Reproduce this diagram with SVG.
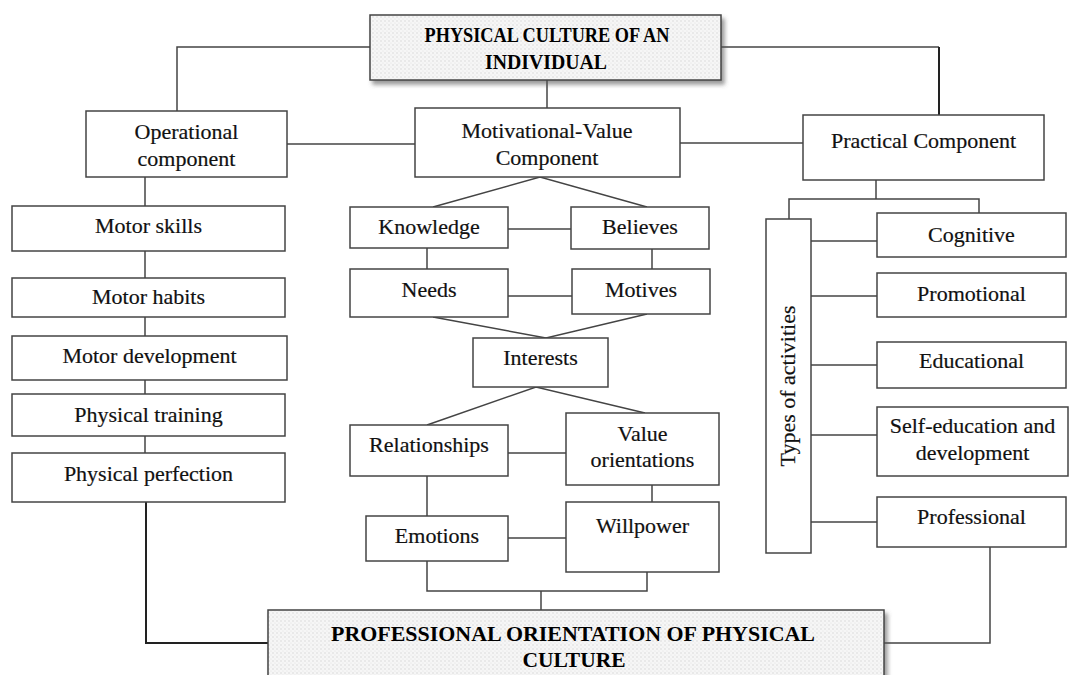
<svg xmlns="http://www.w3.org/2000/svg" width="1078" height="675" viewBox="0 0 1078 675">
  <defs>
    <pattern id="dots" width="4" height="4" patternUnits="userSpaceOnUse">
      <rect width="4" height="4" fill="#f6f6f6"/>
      <circle cx="1" cy="1" r="0.7" fill="#d4d4d4"/>
      <circle cx="3" cy="3" r="0.6" fill="#e0e0e0"/>
    </pattern>
    <filter id="shadow" x="-5%" y="-20%" width="115%" height="150%">
      <feDropShadow dx="3" dy="4" stdDeviation="2" flood-color="#555" flood-opacity="0.6"/>
    </filter>
  </defs>
  <style>
    .box { fill: #ffffff; stroke: #444; stroke-width: 1.5; }
    .title { fill: url(#dots); stroke: #444; stroke-width: 1.5; filter: url(#shadow); }
    .lbl { font-family: "Liberation Serif", "Times New Roman", serif; font-size: 22px; fill: #111; stroke: #111; stroke-width: 0.2; text-anchor: middle; }
    .ttl { font-family: "Liberation Serif", "Times New Roman", serif; font-size: 22px; font-weight: bold; fill: #000; text-anchor: middle; }
    .ln { fill: none; stroke: #444; stroke-width: 1.5; }
    .dk { fill: none; stroke: #222; stroke-width: 2; }
  </style>

  <rect width="1078" height="675" fill="#ffffff"/>

  <!-- connectors -->
  <g id="connectors">
    <polyline class="ln" points="370,47 177,47 177,111"/>
    <polyline class="ln" points="721,47 939,47"/>
    <line class="dk" x1="939" y1="47" x2="939" y2="115"/>
    <line class="ln" x1="547" y1="80" x2="547" y2="108"/>
    <line class="ln" x1="287" y1="144" x2="415" y2="144"/>
    <line class="ln" x1="680" y1="143" x2="803" y2="143"/>

    <!-- operational chain -->
    <line class="ln" x1="145" y1="177" x2="145" y2="206"/>
    <line class="ln" x1="145" y1="251" x2="145" y2="278"/>
    <line class="ln" x1="145" y1="317" x2="145" y2="336"/>
    <line class="ln" x1="145" y1="380" x2="145" y2="394"/>
    <line class="ln" x1="145" y1="436" x2="145" y2="453"/>
    <polyline class="dk" points="146,502 146,643 268,643"/>

    <!-- motivational-value structure -->
    <polyline class="ln" points="433,207 540,177 647,207"/>
    <line class="ln" x1="508" y1="229" x2="571" y2="229"/>
    <line class="ln" x1="427" y1="248" x2="427" y2="269"/>
    <line class="ln" x1="652" y1="249" x2="652" y2="269"/>
    <line class="ln" x1="508" y1="296" x2="572" y2="296"/>
    <polyline class="ln" points="433,317 546,338 647,314"/>
    <polyline class="ln" points="427,425 536,387 645,413"/>
    <line class="ln" x1="508" y1="453" x2="566" y2="453"/>
    <line class="ln" x1="427" y1="476" x2="427" y2="516"/>
    <line class="ln" x1="652" y1="485" x2="652" y2="502"/>
    <line class="ln" x1="508" y1="538" x2="566" y2="538"/>
    <polyline class="ln" points="427,561 427,591 647,591 647,572"/>
    <line class="ln" x1="541" y1="591" x2="541" y2="610"/>

    <!-- practical structure -->
    <line class="ln" x1="876" y1="180" x2="876" y2="199"/>
    <polyline class="ln" points="789,219 789,199 979,199 979,213"/>
    <line class="ln" x1="811" y1="241" x2="877" y2="241"/>
    <line class="ln" x1="811" y1="296" x2="877" y2="296"/>
    <line class="ln" x1="811" y1="365" x2="877" y2="365"/>
    <line class="ln" x1="811" y1="435" x2="877" y2="435"/>
    <line class="ln" x1="811" y1="522" x2="877" y2="522"/>
    <polyline class="ln" points="990,547 990,643 884,643"/>
  </g>

  <!-- title nodes -->
  <g id="physical-culture">
    <rect class="title" x="370" y="15" width="351" height="65"/>
    <text class="ttl" x="547" y="42" textLength="245" lengthAdjust="spacingAndGlyphs">PHYSICAL CULTURE OF AN</text>
    <text class="ttl" x="546" y="69" textLength="122" lengthAdjust="spacingAndGlyphs">INDIVIDUAL</text>
  </g>
  <g id="professional-orientation">
    <rect class="title" x="268" y="610" width="616" height="75"/>
    <text class="ttl" x="573" y="641" textLength="484" lengthAdjust="spacingAndGlyphs">PROFESSIONAL ORIENTATION OF PHYSICAL</text>
    <text class="ttl" x="574" y="667" textLength="103" lengthAdjust="spacingAndGlyphs">CULTURE</text>
  </g>

  <!-- components -->
  <g id="operational">
    <rect class="box" x="86" y="111" width="201" height="66"/>
    <text class="lbl" x="186.5" y="139">Operational</text>
    <text class="lbl" x="186.5" y="166">component</text>
  </g>
  <g id="motivational-value">
    <rect class="box" x="415" y="108" width="265" height="69"/>
    <text class="lbl" x="547" y="138">Motivational-Value</text>
    <text class="lbl" x="547" y="165">Component</text>
  </g>
  <g id="practical">
    <rect class="box" x="803" y="115" width="241" height="65"/>
    <text class="lbl" x="923.5" y="148">Practical Component</text>
  </g>

  <!-- operational chain -->
  <g id="motor-skills">
    <rect class="box" x="12" y="206" width="273" height="45"/>
    <text class="lbl" x="148.5" y="233">Motor skills</text>
  </g>
  <g id="motor-habits">
    <rect class="box" x="12" y="278" width="273" height="39"/>
    <text class="lbl" x="148.5" y="304">Motor habits</text>
  </g>
  <g id="motor-development">
    <rect class="box" x="12" y="336" width="275" height="44"/>
    <text class="lbl" x="149.5" y="363">Motor development</text>
  </g>
  <g id="physical-training">
    <rect class="box" x="12" y="394" width="273" height="42"/>
    <text class="lbl" x="148.5" y="422">Physical training</text>
  </g>
  <g id="physical-perfection">
    <rect class="box" x="12" y="453" width="273" height="49"/>
    <text class="lbl" x="148.5" y="481">Physical perfection</text>
  </g>

  <!-- motivational-value elements -->
  <g id="knowledge">
    <rect class="box" x="350" y="207" width="158" height="41"/>
    <text class="lbl" x="429" y="234">Knowledge</text>
  </g>
  <g id="believes">
    <rect class="box" x="571" y="207" width="138" height="42"/>
    <text class="lbl" x="640" y="234">Believes</text>
  </g>
  <g id="needs">
    <rect class="box" x="350" y="269" width="158" height="48"/>
    <text class="lbl" x="429" y="297">Needs</text>
  </g>
  <g id="motives">
    <rect class="box" x="572" y="269" width="138" height="45"/>
    <text class="lbl" x="641" y="297">Motives</text>
  </g>
  <g id="interests">
    <rect class="box" x="473" y="338" width="135" height="49"/>
    <text class="lbl" x="540.5" y="365">Interests</text>
  </g>
  <g id="relationships">
    <rect class="box" x="350" y="425" width="158" height="51"/>
    <text class="lbl" x="429" y="452">Relationships</text>
  </g>
  <g id="value-orientations">
    <rect class="box" x="566" y="413" width="153" height="72"/>
    <text class="lbl" x="642.5" y="441">Value</text>
    <text class="lbl" x="642.5" y="467">orientations</text>
  </g>
  <g id="emotions">
    <rect class="box" x="366" y="516" width="142" height="45"/>
    <text class="lbl" x="437" y="543">Emotions</text>
  </g>
  <g id="willpower">
    <rect class="box" x="566" y="502" width="153" height="70"/>
    <text class="lbl" x="642.5" y="533">Willpower</text>
  </g>

  <!-- practical elements -->
  <g id="types-of-activities">
    <rect class="box" x="766" y="219" width="45" height="334"/>
    <text class="lbl" transform="translate(795,386) rotate(-90)">Types of activities</text>
  </g>
  <g id="cognitive">
    <rect class="box" x="877" y="213" width="189" height="44"/>
    <text class="lbl" x="971.5" y="242">Cognitive</text>
  </g>
  <g id="promotional">
    <rect class="box" x="877" y="273" width="189" height="44"/>
    <text class="lbl" x="971.5" y="301">Promotional</text>
  </g>
  <g id="educational">
    <rect class="box" x="877" y="342" width="189" height="46"/>
    <text class="lbl" x="971.5" y="368">Educational</text>
  </g>
  <g id="self-education">
    <rect class="box" x="877" y="407" width="191" height="69"/>
    <text class="lbl" x="972.5" y="433">Self-education and</text>
    <text class="lbl" x="972.5" y="460">development</text>
  </g>
  <g id="professional">
    <rect class="box" x="877" y="497" width="189" height="50"/>
    <text class="lbl" x="971.5" y="524">Professional</text>
  </g>
</svg>
